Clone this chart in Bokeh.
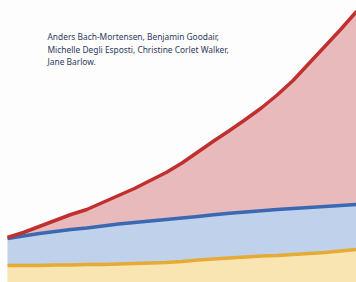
from bokeh.plotting import figure
from bokeh.models import Range1d, Label, ColumnDataSource
from bokeh.embed import file_html
from bokeh.resources import INLINE

periods = list(range(23))
layer_a = [17, 17, 17, 17.5, 17.5, 18, 18, 18.5, 19, 19.5, 20, 21, 22.5, 23.5,
           24.5, 25.5, 26.5, 27, 28, 29, 30, 31.5, 33]
layer_b = [27, 29.5, 32, 33.5, 35.5, 36.5, 38.5, 40, 41, 42, 43, 43.5, 43.5, 44.3,
           44.8, 45.1, 45.3, 46, 46, 46, 46, 45.5, 45]
layer_c = [1, 3.5, 7, 11, 15, 18.5, 23.5, 28.5, 34, 40.5, 47, 55, 64.5, 73.7,
           82.7, 92.4, 102.7, 114.5, 128, 144, 160, 176, 193]
authors = ["Anders Bach-Mortensen, Benjamin Goodair,",
           "Michelle Degli Esposti, Christine Corlet Walker,",
           "Jane Barlow."]

top_a = layer_a
top_b = [a + b for a, b in zip(layer_a, layer_b)]
top_c = [t + c for t, c in zip(top_b, layer_c)]

src = ColumnDataSource(dict(x=periods, a=layer_a, b=layer_b, c=layer_c,
                            ta=top_a, tb=top_b, tc=top_c))

p = figure(width=356, height=282, output_backend="svg", toolbar_location=None,
           x_range=Range1d(-0.441, 22), y_range=Range1d(0, 282), min_border=0)
p.axis.visible = False
p.grid.visible = False
p.outline_line_color = None
p.background_fill_color = "#fdfdfd"
p.border_fill_color = "#fdfdfd"

p.varea_stack(["a", "b", "c"], x="x", source=src,
              color=["#f9e5b1", "#bfd1eb", "#e8babb"])
p.line("x", "ta", source=src, line_color="#e6ab36", line_width=3.5, line_join="round")
p.line("x", "tb", source=src, line_color="#3b68b3", line_width=3.5, line_join="round")
p.line("x", "tc", source=src, line_color="#c0302f", line_width=3.5, line_join="round")

for i, t in enumerate(authors):
    p.add_layout(Label(x=47, y=282 - 36 - i * 12.5, x_units="screen", y_units="screen",
                       text=t, text_font="Noto Sans", text_font_size="8.4px",
                       text_color="#2d3a5a", text_baseline="alphabetic"))

open("out.html", "w").write(file_html(p, INLINE))
